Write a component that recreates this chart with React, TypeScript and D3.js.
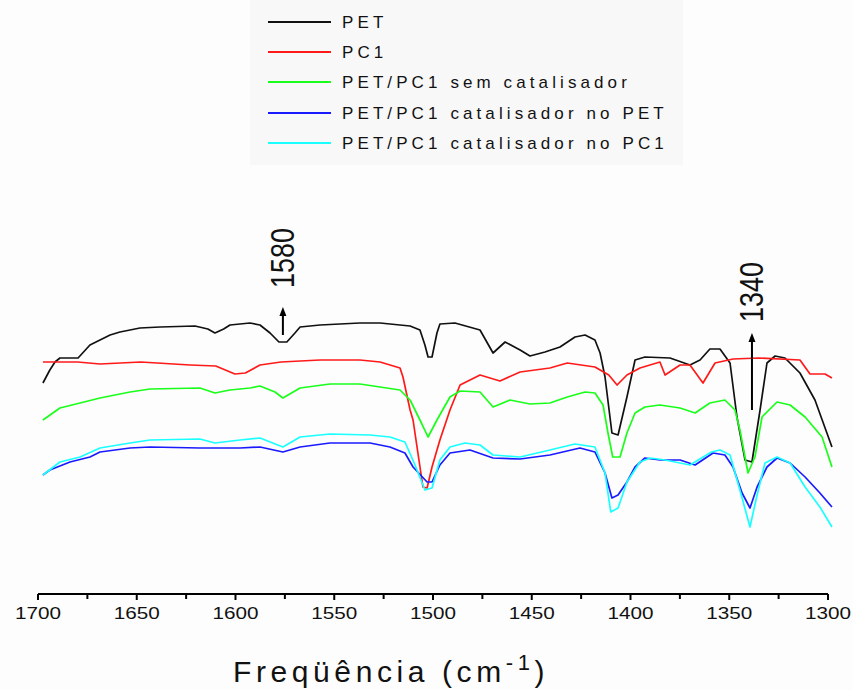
import React from "react";
import * as d3 from "d3";

// ---- Data (wavenumber cm^-1, relative transmittance a.u.) ----
const PET: [number, number][] = [
  [1697.5, 207], [1694, 220], [1691.4, 228], [1688.9, 232], [1679.7, 232], [1673.7, 245], [1668.6, 250],
  [1663.5, 255], [1658.5, 258], [1653.4, 260], [1648.4, 262], [1638.2, 263], [1620.5, 264], [1614, 261],
  [1610.4, 257], [1606, 261], [1602.8, 265], [1592.7, 267], [1587.6, 265], [1582.5, 257], [1578, 248],
  [1574, 248], [1569.9, 257], [1567.3, 263], [1557.2, 265], [1537, 267], [1526.8, 267], [1516.7, 265],
  [1511.6, 264], [1506.6, 260], [1504.1, 245], [1502.5, 233], [1500.5, 233], [1498, 257], [1496.5, 266],
  [1488.9, 267], [1476.2, 260], [1469.6, 237], [1463.5, 248], [1455.9, 240], [1450.9, 234], [1443.3, 238],
  [1435.7, 243], [1428.1, 253], [1423, 255], [1418, 250], [1415.4, 237], [1412.9, 213], [1409.4, 157],
  [1406.3, 155], [1401.8, 193], [1397.7, 230], [1392.7, 233], [1380, 232], [1369.9, 225], [1364.8, 230],
  [1359.8, 241], [1354.7, 241], [1349.6, 227], [1346.1, 173], [1342, 130], [1338.5, 128], [1334.4, 180],
  [1330.9, 227], [1326.8, 234], [1321.8, 232], [1314.2, 217], [1306.6, 190], [1298, 143],
];

const PC1: [number, number][] = [
  [1697.5, 228], [1680, 228], [1668.6, 226], [1648, 228], [1623, 225], [1610, 224], [1600.3, 216],
  [1595, 217], [1587.6, 225], [1577, 228], [1557.2, 230], [1537, 230], [1526.8, 228], [1516.7, 222],
  [1515.2, 213], [1511.6, 180], [1510.1, 170], [1505.1, 103], [1503, 102], [1500.5, 123], [1496.5, 150],
  [1491.4, 180], [1486.3, 205], [1476.2, 215], [1466.1, 209], [1455.9, 218], [1440.8, 222], [1432, 227],
  [1418, 223], [1411, 215], [1406.8, 205], [1401.8, 215], [1395.2, 222], [1385.1, 228], [1382.5, 215],
  [1374.9, 225], [1369.9, 225], [1363.3, 207], [1357.2, 227], [1348.1, 231], [1335, 232], [1314.2, 230],
  [1309.1, 216], [1301.5, 216], [1298, 212],
];

const SEM_CAT: [number, number][] = [
  [1697.5, 170], [1688.9, 182], [1678.7, 187], [1668.6, 192], [1653.4, 198], [1643.3, 201], [1618, 202],
  [1610.4, 197], [1602.8, 200], [1592.7, 202], [1587.6, 204], [1580, 198], [1576, 192], [1567.3, 202],
  [1552.2, 206], [1537, 206], [1526.8, 203], [1516.7, 200], [1511.6, 190], [1506.6, 170], [1502.5, 153],
  [1498, 170], [1491.4, 193], [1486.3, 199], [1476.2, 198], [1469.6, 183], [1461, 190], [1450.9, 186],
  [1440.8, 187], [1432, 193], [1423, 198], [1418, 197], [1413.9, 185], [1411.4, 157], [1409, 133],
  [1405.3, 133], [1401.8, 157], [1397.7, 177], [1392.7, 183], [1385.1, 185], [1374.9, 182], [1367.3, 177],
  [1359.8, 187], [1352.2, 190], [1347.1, 180], [1344.6, 160], [1340.5, 117], [1337, 133], [1333.4, 173],
  [1325.8, 188], [1319.2, 185], [1311.6, 173], [1303, 153], [1298, 123],
];

const CAT_PET: [number, number][] = [
  [1697.5, 115], [1694, 120], [1683.8, 128], [1673.7, 133], [1668.6, 138], [1653.4, 142], [1643.3, 143],
  [1618, 142], [1597.7, 142], [1587.6, 143], [1576, 138], [1567.3, 143], [1552.2, 147], [1531.9, 147],
  [1521.8, 143], [1514.2, 137], [1510.1, 123], [1503, 108], [1500.5, 108], [1496.5, 125], [1491.4, 137],
  [1481.3, 140], [1469.6, 132], [1455.9, 131], [1440.8, 135], [1425.6, 142], [1418, 138], [1412.9, 117],
  [1409.4, 92], [1406.3, 95], [1401.8, 108], [1397.7, 123], [1392.7, 132], [1385, 130], [1374.9, 130],
  [1367.3, 125], [1358.2, 137], [1352.2, 135], [1348.1, 123], [1343.5, 97], [1339.5, 82], [1335.9, 103],
  [1330.9, 123], [1325.8, 132], [1319.2, 127], [1311.6, 113], [1304.1, 97], [1298, 83],
];

const CAT_PC1: [number, number][] = [
  [1697.5, 115], [1688.9, 128], [1678.7, 133], [1668.6, 142], [1653.4, 147], [1643.3, 150], [1618, 151],
  [1610.4, 147], [1597.7, 150], [1587.6, 152], [1576, 143], [1567.3, 153], [1552.2, 156], [1531.9, 155],
  [1521.8, 153], [1514.2, 148], [1509.1, 125], [1504.1, 100], [1500.5, 102], [1496.5, 130], [1491.4, 143],
  [1483.8, 147], [1476.2, 145], [1469.6, 135], [1455.9, 133], [1440.8, 140], [1428.1, 146], [1418, 143],
  [1412.9, 117], [1410, 78], [1406.3, 82], [1401.8, 108], [1395.2, 128], [1390.1, 132], [1382.5, 130],
  [1369.9, 125], [1359, 138], [1354.7, 140], [1349.6, 135], [1344.6, 100], [1339.5, 63], [1335.9, 95],
  [1331.9, 127], [1325.8, 133], [1319.2, 127], [1311.6, 103], [1304.1, 83], [1298, 63],
];

const SERIES_NAMES = [
  "PET",
  "PC1",
  "PET/PC1 sem catalisador",
  "PET/PC1 catalisador no PET",
  "PET/PC1 catalisador no PC1",
];
const SERIES_COLORS = ["#111111", "#ff1a1a", "#1aff1a", "#1a1aff", "#1affff"];
const SERIES_DATA = [PET, PC1, SEM_CAT, CAT_PET, CAT_PC1];

const X_TICKS = [1700, 1650, 1600, 1550, 1500, 1450, 1400, 1350, 1300];
const X_MINOR = [1675, 1625, 1575, 1525, 1475, 1425, 1375, 1325];

const ANNOTATIONS = [
  { pos: 1576, label: "1580", tipValue: 283, baseValue: 255, textTop: 228 },
  { pos: 1338.5, label: "1340", tipValue: 257, baseValue: 180, textTop: 262 },
];

const W = 853;
const H = 690;

export default function App() {
  const x = d3.scaleLinear().domain([1700, 1300]).range([38, 828]);
  const y = d3.scaleLinear().domain([0, 300]).range([590, 290]);
  const line = d3
    .line<[number, number]>()
    .x((d) => x(d[0]))
    .y((d) => y(d[1]));

  const axisY = 594;
  const legendX = 268;
  const legendRows = [22, 52, 82, 113, 143];

  return (
    <svg
      width={W}
      height={H}
      viewBox={`0 0 ${W} ${H}`}
      style={{ position: "absolute", left: 0, top: 0, background: "#fdfdfd" }}
      fontFamily="'Liberation Sans', Arial, sans-serif"
    >
      <rect x={0} y={0} width={W} height={H} fill="#fdfdfd" />
      {/* legend box */}
      <rect x={250} y={0} width={433} height={165} fill="#f8f8f8" />
      {SERIES_NAMES.map((name, i) => (
        <g key={name}>
          <line
            x1={legendX}
            x2={legendX + 63}
            y1={legendRows[i]}
            y2={legendRows[i]}
            stroke={SERIES_COLORS[i]}
            strokeWidth={2}
          />
          <text
            x={legendX + 74}
            y={legendRows[i]}
            dominantBaseline="central"
            fontSize={17}
            letterSpacing={4.1}
            fill="#111"
          >
            {name}
          </text>
        </g>
      ))}

      {/* spectra */}
      {SERIES_DATA.map((data, i) => (
        <path
          key={SERIES_NAMES[i]}
          d={line(data) || ""}
          fill="none"
          stroke={SERIES_COLORS[i]}
          strokeWidth={1.7}
          strokeLinejoin="round"
        />
      ))}

      {/* annotations */}
      {ANNOTATIONS.map((a) => {
        const ax = x(a.pos);
        const tip = y(a.tipValue);
        const base = y(a.baseValue);
        return (
          <g key={a.label}>
            <line x1={ax} x2={ax} y1={tip + 4} y2={base} stroke="#000" strokeWidth={2} />
            <path
              d={`M${ax},${tip} L${ax - 3.5},${tip + 9} L${ax + 3.5},${tip + 9} Z`}
              fill="#000"
            />
            <text
              transform={`translate(${ax + 11},${a.textTop + 30}) rotate(-90)`}
              textAnchor="middle"
              fontSize={33}
              textLength={60}
              lengthAdjust="spacingAndGlyphs"
              fill="#111"
            >
              {a.label}
            </text>
          </g>
        );
      })}

      {/* x axis */}
      <line x1={x(1700)} x2={x(1300)} y1={axisY} y2={axisY} stroke="#000" strokeWidth={2} />
      {X_TICKS.map((t) => (
        <g key={t}>
          <line x1={x(t)} x2={x(t)} y1={axisY} y2={axisY + 6} stroke="#000" strokeWidth={2} />
          <text
            x={x(t)}
            y={613}
            textAnchor="middle"
            dominantBaseline="central"
            fontSize={16}
            textLength={46}
            lengthAdjust="spacingAndGlyphs"
            fill="#111"
          >
            {t}
          </text>
        </g>
      ))}
      {X_MINOR.map((t) => (
        <line key={t} x1={x(t)} x2={x(t)} y1={axisY} y2={axisY + 5} stroke="#000" strokeWidth={2} />
      ))}

      {/* axis title */}
      <text x={233} y={682} fontSize={30} letterSpacing={4.6} fill="#111">
        Freqüência (cm
        <tspan dy={-12} fontSize={22}>
          -1
        </tspan>
        <tspan dy={12}>)</tspan>
      </text>
    </svg>
  );
}
